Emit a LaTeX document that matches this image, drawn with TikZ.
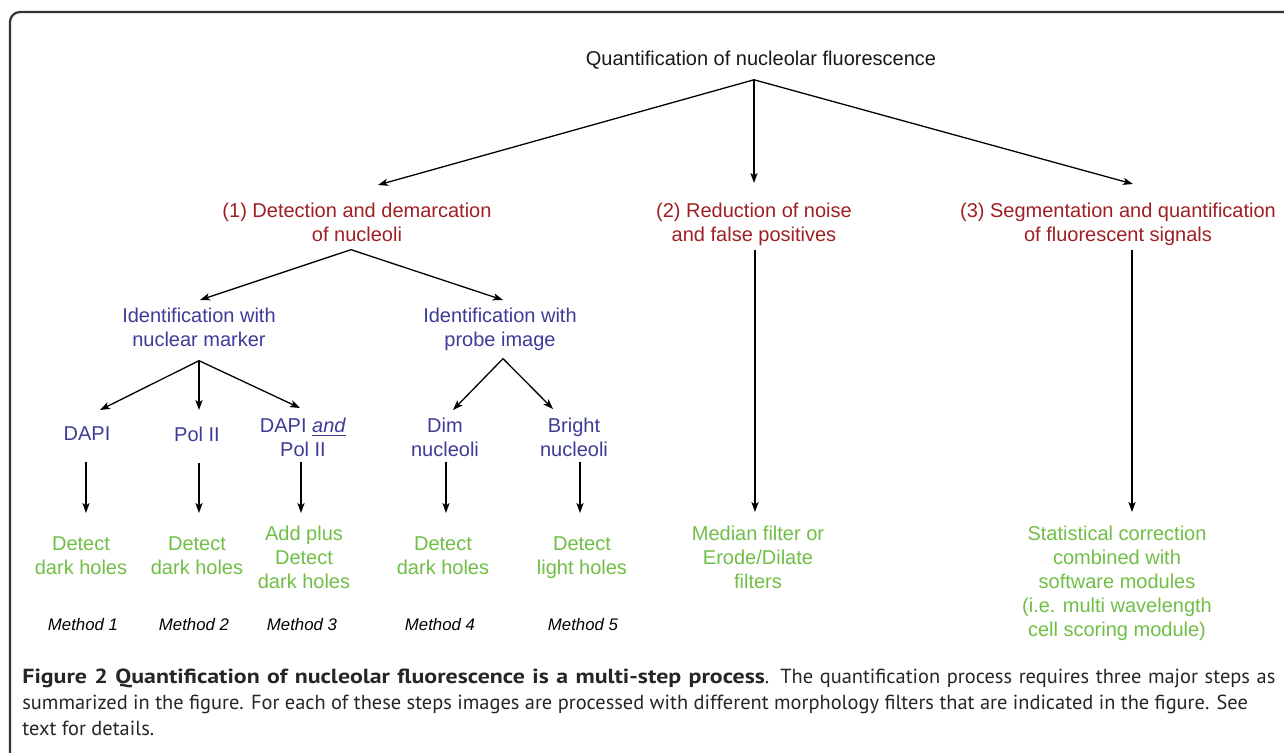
\documentclass[tikz,border=0pt]{standalone}
\usepackage{fontspec}
\setmainfont{Liberation Sans}
\newfontfamily\capfont[BoldFeatures={FakeStretch=1.17}]{PT Sans}
\usepackage{tikz}
\usetikzlibrary{arrows.meta}
\usepackage{xcolor}
\definecolor{stepred}{RGB}{158,32,36}
\definecolor{idblue}{RGB}{62,60,150}
\definecolor{filtgreen}{RGB}{112,190,70}

\begin{document}
\begin{tikzpicture} [x=0.5pt, y=-0.5pt,
		txt/.style={inner sep=0pt, outer sep=0pt, align=center, font=\fontsize{10}{12}\selectfont},
		steplbl/.style={txt, text=stepred, anchor=north},
		idlbl/.style={txt, text=idblue, anchor=north},
		reslbl/.style={txt, text=filtgreen, anchor=north},
		methlbl/.style={txt, anchor=base, font=\fontsize{8.4}{10}\selectfont\itshape},
		arr/.style={line width=0.65pt, -{Stealth[length=5pt, width=3.6pt, inset=1.2pt]}}]
				\useasboundingbox (0, 0) rectangle (1284, 753);
				\fill [white] (0, 0) rectangle (1284, 753);
				\draw [black!80, line width=1.1pt, rounded corners=5pt] (10, 780)--(10, 12)--(1300, 12);

				% top level
				\node [txt, anchor=base, text=black!90] (qtitle) at (761, 66) {Quantification of nucleolar fluorescence};
				\node [steplbl] (step1) at (357, 203) {(1) Detection and demarcation\\of nucleoli};
				\node [steplbl] (step2) at (754, 203) {(2) Reduction of noise\\and false positives};
				\node [steplbl] (step3) at (1118, 203) {(3) Segmentation and quantification\\of fluorescent signals};

				% identification
				\node [idlbl] (idmark) at (199, 308) {Identification with\\nuclear marker};
				\node [idlbl] (idprobe) at (500, 308) {Identification with\\probe image};
				\node [idlbl] (dapi) at (87, 427) {DAPI};
				\node [idlbl] (pol) at (197, 427) {Pol II};
				\node [idlbl] (dapipol) at (303, 418) {DAPI \underline{\textit{and}}\\Pol II};
				\node [idlbl] (dim) at (445, 418) {Dim\\nucleoli};
				\node [idlbl] (bright) at (574, 418) {Bright\\nucleoli};

				% filters
				\node [reslbl] (det1) at (81, 537) {Detect\\dark holes};
				\node [reslbl] (det2) at (197, 537) {Detect\\dark holes};
				\node [reslbl] (det3) at (304, 526) {Add plus\\Detect\\dark holes};
				\node [reslbl] (det4) at (443, 537) {Detect\\dark holes};
				\node [reslbl] (det5) at (582, 537) {Detect\\light holes};
				\node [reslbl] (filt) at (758, 526) {Median filter or\\Erode/Dilate\\filters};
				\node [reslbl] (stat) at (1117, 526) {Statistical correction\\combined with\\software modules\\(i.e. multi wavelength\\cell scoring module)};

				\node [methlbl] (meth1) at (83, 630) {Method 1};
				\node [methlbl] (meth2) at (194, 630) {Method 2};
				\node [methlbl] (meth3) at (302, 630) {Method 3};
				\node [methlbl] (meth4) at (440, 630) {Method 4};
				\node [methlbl] (meth5) at (583, 630) {Method 5};

				% forks
				\coordinate (fork0) at ([shift={(-7, 10)}]qtitle.south);
				\coordinate (fork1) at ([shift={(-6, 8)}]step1.south);
				\coordinate (fork2) at ([shift={(0, 14)}]idmark.south);
				\coordinate (fork3) at ([shift={(3, 8)}]idprobe.south);

				\draw [arr] (fork0)--([shift={(21, -18)}]step1.north);
				\draw [arr] (fork0)--([shift={(0, -20)}]step2.north);
				\draw [arr] (fork0)--([shift={(15, -19)}]step3.north);
				\draw [arr] (fork1)--([shift={(1, -8)}]idmark.north);
				\draw [arr] (fork1)--([shift={(3, -8)}]idprobe.north);
				\draw [arr] (fork2)--([shift={(13, -17)}]dapi.north);
				\draw [arr] (fork2)--([shift={(2, -17)}]pol.north);
				\draw [arr] (fork2)--([shift={(-3, -10)}]dapipol.north);
				\draw [arr] (fork3)--([shift={(8, -8)}]dim.north);
				\draw [arr] (fork3)--([shift={(-21, -9)}]bright.north);

				\draw [arr] ([shift={(-1, 21)}]dapi.south)--([shift={(5, -24)}]det1.north);
				\draw [arr] ([shift={(2, 21)}]pol.south)--([shift={(2, -24)}]det2.north);
				\draw [arr] ([shift={(-2, 5)}]dapipol.south)--([shift={(-3, -13)}]det3.north);
				\draw [arr] ([shift={(1, 5)}]dim.south)--([shift={(3, -24)}]det4.north);
				\draw [arr] ([shift={(6, 5)}]bright.south)--([shift={(-2, -24)}]det5.north);
				\draw [arr] ([shift={(1, 4)}]step2.south)--([shift={(-3, -14)}]filt.north);
				\draw [arr] ([shift={(14, 4)}]step3.south)--([shift={(15, -14)}]stat.north);

				% caption
				\node [anchor=north west, inner sep=0pt, align=left, text=black!85, font=\capfont\fontsize{10.2}{13}\selectfont] (caption) at (22, 669)
					{\makebox[626.5pt][s]{\textbf{Figure 2 Quantification of nucleolar fluorescence is a multi-step process}. The quantification process requires three major steps as}\\
					summarized in the figure. For each of these steps images are processed with different morphology filters that are indicated in the figure. See\\
					text for details.};

			\end{tikzpicture}
\end{document}
